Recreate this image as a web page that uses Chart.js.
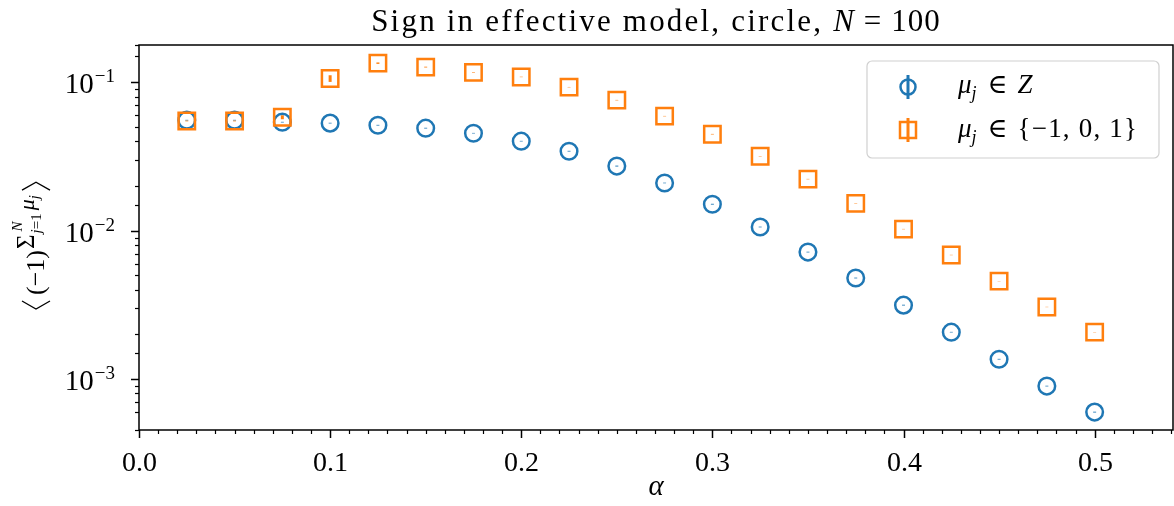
<!DOCTYPE html>
<html>
<head>
<meta charset="utf-8">
<script src="https://cdn.jsdelivr.net/npm/chart.js@4/dist/chart.umd.min.js"></script>
<style>
  body { margin: 0; background: #fff; }
  canvas { display: block; }
</style>
</head>
<body>
<canvas id="signChart" width="1174" height="506"></canvas>
<script>
// alpha values along the x axis
const alphas = [0.025, 0.05, 0.075, 0.1, 0.125, 0.15, 0.175, 0.2, 0.225, 0.25,
                0.275, 0.3, 0.325, 0.35, 0.375, 0.4, 0.425, 0.45, 0.475, 0.5];
// mu_j in Z
const zSign = [0.0557, 0.0557, 0.054, 0.0532, 0.0515, 0.0492, 0.0455, 0.0402, 0.0344, 0.0273,
               0.0210, 0.0151, 0.0106, 0.00718, 0.0048, 0.00315, 0.00207, 0.00136, 0.000896, 0.000598];
const zErr = [0.0003, 0.0003, 0.0003, 0.0003, 0.0003, 0.0003, 0.0002, 0.0002, 0.0002, 0.0002,
              0.0001, 0.0001, 0.00006, 0.00004, 0.00003, 0.00002, 0.00001, 0.000008, 0.000005, 0.000004];
// mu_j in {-1,0,1}
const tSign = [0.055, 0.055, 0.0583, 0.1064, 0.135, 0.127, 0.117, 0.109, 0.093, 0.076,
               0.0593, 0.0448, 0.0318, 0.0223, 0.0153, 0.01026, 0.00686, 0.00457, 0.00306, 0.00207];
const tErr = [0.0003, 0.0003, 0.0018, 0.0055, 0.0015, 0.0008, 0.0005, 0.0004, 0.0003, 0.0003,
              0.0002, 0.0002, 0.0001, 0.00008, 0.00005, 0.00003, 0.00002, 0.00001, 0.000008, 0.000005];
const yDecades = [-3, -2, -1];
const xTickStep = 0.1;

const BLUE = "#1f77b4";
const ORANGE = "#ff7f0e";
const SERIF = "'Liberation Serif', 'DejaVu Serif', serif";

// draws a list of text runs, returns width
function runs(ctx, x, y, parts, measureOnly) {
  let cx = x;
  for (const p of parts) {
    ctx.font = (p.it ? "italic " : "") + p.size + "px " + SERIF;
    ctx.letterSpacing = (p.ls || 0) + "px";
    const w = ctx.measureText(p.t).width;
    if (!measureOnly) ctx.fillText(p.t, cx, y + (p.dy || 0));
    cx += (p.adv !== undefined ? p.adv : w) + (p.gap || 0);
  }
  ctx.letterSpacing = "0px";
  return cx - x;
}

function bracket(ctx, x, top, bottom, open) {
  const mid = (top + bottom) / 2;
  ctx.beginPath();
  if (open) {
    ctx.moveTo(x + 8, top);
    ctx.lineTo(x, mid);
    ctx.lineTo(x + 8, bottom);
  } else {
    ctx.moveTo(x, top);
    ctx.lineTo(x + 8, mid);
    ctx.lineTo(x, bottom);
  }
  ctx.lineWidth = 1.3;
  ctx.stroke();
}

const decor = {
  id: "decor",
  beforeDatasetsDraw(chart) {
    const ctx = chart.ctx;
    const xs = chart.scales.x, ys = chart.scales.y;
    const sets = [[zSign, zErr, BLUE], [tSign, tErr, ORANGE]];
    ctx.save();
    for (const [vals, errs, col] of sets) {
      ctx.strokeStyle = col;
      ctx.lineWidth = 3;
      vals.forEach((v, i) => {
        const x = xs.getPixelForValue(alphas[i]);
        const y1 = ys.getPixelForValue(v - errs[i]);
        const y2 = ys.getPixelForValue(v + errs[i]);
        ctx.beginPath();
        ctx.moveTo(x, y1);
        ctx.lineTo(x, y2);
        ctx.stroke();
      });
    }
    ctx.restore();
  },
  afterDraw(chart) {
    const ctx = chart.ctx;
    const a = chart.chartArea;
    const xs = chart.scales.x, ys = chart.scales.y;
    ctx.save();
    ctx.fillStyle = "#000";
    ctx.strokeStyle = "#000";

    // frame
    ctx.lineWidth = 1.5;
    ctx.strokeRect(a.left, a.top, a.right - a.left, a.bottom - a.top);

    // x ticks: majors from the scale, minors every 0.01
    for (let k = 1; k * 0.01 <= xs.max; k++) {
      if (k % 10 === 0) continue;
      const px = Math.round(xs.getPixelForValue(k * 0.01)) + 0.5;
      ctx.lineWidth = 1.2;
      ctx.beginPath();
      ctx.moveTo(px, a.bottom);
      ctx.lineTo(px, a.bottom + 4);
      ctx.stroke();
    }
    ctx.font = "28px " + SERIF;
    ctx.textAlign = "center";
    xs.ticks.forEach(t => {
      const px = Math.round(xs.getPixelForValue(t.value)) + 0.5;
      ctx.lineWidth = 1.5;
      ctx.beginPath();
      ctx.moveTo(px, a.bottom);
      ctx.lineTo(px, a.bottom + 8);
      ctx.stroke();
      ctx.fillText(t.value.toFixed(1), px, 471);
    });
    ctx.textAlign = "left";

    // y ticks (major + minor) from the log scale
    ys.ticks.forEach(t => {
      const v = t.value;
      const lg = Math.log10(v);
      const major = Math.abs(lg - Math.round(lg)) < 1e-6;
      const py = Math.round(ys.getPixelForValue(v)) + 0.5;
      ctx.lineWidth = major ? 1.5 : 1.2;
      ctx.beginPath();
      ctx.moveTo(a.left, py);
      ctx.lineTo(a.left - (major ? 8 : 4), py);
      ctx.stroke();
    });

    // y tick labels 10^k
    yDecades.forEach(d => {
      const py = ys.getPixelForValue(Math.pow(10, d));
      const parts = [
        { t: "10", size: 29, gap: 1 },
        { t: "\u2212" + Math.abs(d), size: 19, dy: -11 }
      ];
      const w = runs(ctx, 0, 0, parts, true);
      runs(ctx, a.left - 24 - w, py + 11, parts);
    });

    // title
    const title = [
      { t: "Sign in effective model, circle, ", size: 31, ls: 2.2 },
      { t: "N", size: 31, it: true, gap: 10 },
      { t: "=", size: 31, gap: 10 },
      { t: "100", size: 31, ls: 1 }
    ];
    const tw = runs(ctx, 0, 0, title, true);
    runs(ctx, (a.left + a.right) / 2 - tw / 2, 31, title);

    // x label
    ctx.font = "italic 29px " + SERIF;
    ctx.textAlign = "center";
    ctx.fillText("\u03b1", (a.left + a.right) / 2, 495);
    ctx.textAlign = "left";

    // y label, rotated
    ctx.save();
    ctx.translate(44, 315);
    ctx.rotate(-Math.PI / 2);
    bracket(ctx, 6, -22, 6, true);
    let cx = 20;
    cx += runs(ctx, cx, 0, [{ t: "(\u22121)", size: 26 }]) + 1;
    cx += runs(ctx, cx, -10, [{ t: "\u03a3", size: 25 }]) + 1;
    const lim = [{ t: "j", size: 15, it: true }, { t: "=1", size: 15 }];
    const wLim = runs(ctx, 0, 0, lim, true);
    runs(ctx, cx, -3, lim);
    runs(ctx, cx + 2, -22, [{ t: "N", size: 15, it: true }]);
    cx += wLim + 3;
    cx += runs(ctx, cx, -10, [{ t: "\u03bc", size: 22, it: true }]);
    cx += runs(ctx, cx, -5, [{ t: "j", size: 15, it: true }]) + 5;
    bracket(ctx, cx, -22, 6, false);
    ctx.restore();

    // legend box
    const lx = 867, ly = 61, lw = 292, lh = 97;
    ctx.beginPath();
    ctx.roundRect(lx, ly, lw, lh, 5);
    ctx.fillStyle = "rgba(255,255,255,0.8)";
    ctx.fill();
    ctx.strokeStyle = "#d0d0d0";
    ctx.lineWidth = 1.2;
    ctx.stroke();

    const mu = [{ t: "\u03bc", size: 27, it: true }, { t: "j", size: 18, it: true, dy: 6, gap: 11 }, { t: "\u2208", size: 27, gap: 10 }];
    const rows = [
      { col: BLUE, y: 87, base: 93, ds: 0,
        txt: mu.concat([{ t: "Z", size: 27, it: true }]) },
      { col: ORANGE, y: 130, base: 137, ds: 1,
        txt: mu.concat([{ t: "{\u22121, 0, 1}", size: 27, ls: 1.2 }]) }
    ];
    rows.forEach(r => {
      ctx.strokeStyle = r.col;
      ctx.lineWidth = 3;
      ctx.beginPath();
      ctx.moveTo(908, r.y - 12);
      ctx.lineTo(908, r.y + 12);
      ctx.stroke();
      ctx.lineWidth = 2.5;
      ctx.beginPath();
      if (r.ds === 0) ctx.arc(908, r.y, 7.5, 0, Math.PI * 2);
      else ctx.rect(900, r.y - 8, 16, 16);
      ctx.stroke();
      ctx.fillStyle = "#000";
      runs(ctx, 958, r.base, r.txt);
    });

    ctx.restore();
  }
};

new Chart(document.getElementById("signChart"), {
  type: "scatter",
  data: {
    datasets: [
      {
        label: "\u03bcj \u2208 Z",
        data: alphas.map((a, i) => ({ x: a, y: zSign[i] })),
        pointStyle: "circle",
        pointRadius: 8.3,
        pointBorderWidth: 2.5,
        borderColor: BLUE,
        backgroundColor: "rgba(0,0,0,0)",
        order: 1
      },
      {
        label: "\u03bcj \u2208 {\u22121, 0, 1}",
        data: alphas.map((a, i) => ({ x: a, y: tSign[i] })),
        pointStyle: "rect",
        pointRadius: 11.6,
        pointBorderWidth: 2.5,
        borderColor: ORANGE,
        backgroundColor: "rgba(0,0,0,0)",
        order: 0
      }
    ]
  },
  options: {
    responsive: false,
    animation: false,
    devicePixelRatio: 1,
    layout: { autoPadding: false, padding: { top: 45, right: 1, left: 0, bottom: 0 } },
    plugins: { legend: { display: false }, tooltip: { enabled: false } },
    scales: {
      x: {
        type: "linear",
        min: 0,
        max: 0.541,
        border: { display: false },
        grid: { display: false },
        ticks: { display: false, stepSize: xTickStep, includeBounds: false },
        afterFit: s => { s.height = 76; }
      },
      y: {
        type: "logarithmic",
        min: 4.53e-4,
        max: 0.179,
        border: { display: false },
        grid: { display: false },
        ticks: { display: false },
        afterFit: s => { s.width = 139; }
      }
    }
  },
  plugins: [decor]
});
</script>
</body>
</html>
